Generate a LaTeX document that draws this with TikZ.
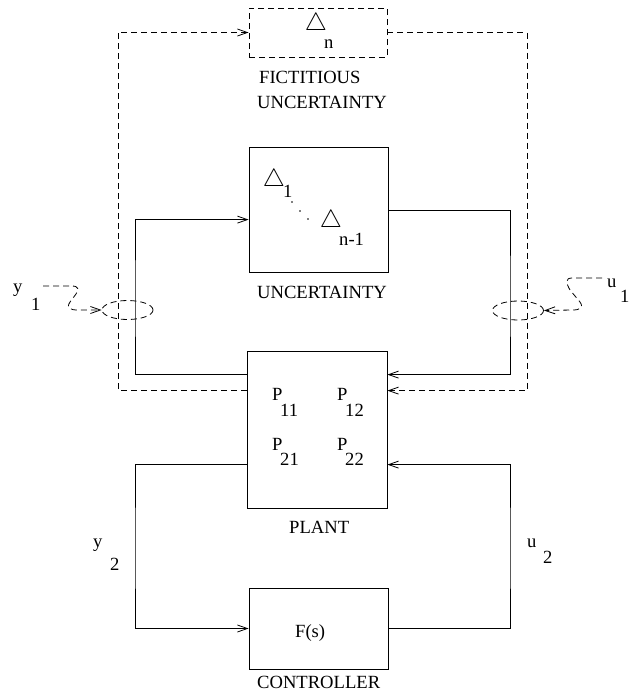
\documentclass[tikz,border=0pt]{standalone}
\usepackage{fontspec}
\setmainfont{Liberation Serif}
\usetikzlibrary{arrows.meta,shapes.geometric}
\begin{document}
\begin{tikzpicture}[x=1pt,y=-1pt,
  lbl/.style={inner sep=0pt,anchor=base west,font=\fontsize{18.6}{20}\selectfont},
  box/.style={draw,line width=0.8pt,inner sep=0pt},
  dsh/.style={dash pattern=on 6pt off 4pt},
  wire/.style={line width=0.8pt},
  arr/.style={-{Straight Barb[length=10pt,width=7pt]}},
  tri/.style={inner sep=0pt,font=\fontsize{25}{26}\selectfont},
  dotm/.style={fill,circle,inner sep=0pt,minimum size=1.6pt}]
\fill[white] (0,0) rectangle (630,697);
\useasboundingbox (0,0) rectangle (630,697);
% boxes
\node[box,dsh,minimum width=138pt,minimum height=49pt] (fict) at (318,32.5) {};
\node[box,minimum width=139pt,minimum height=125pt] (unc) at (318.5,209.5) {};
\node[box,minimum width=140pt,minimum height=157pt] (plant) at (317,429.5) {};
\node[box,minimum width=139pt,minimum height=81pt] (ctrl) at (318.5,628.5) {};
\node[box,dsh,ellipse,minimum width=51pt,minimum height=19pt] (el) at (127.5,310) {};
\node[box,dsh,ellipse,minimum width=51pt,minimum height=19pt] (er) at (518,310.5) {};
% triangles and subscripts
\node[tri] (tn) at (316,24) {$\triangle$};
\node[lbl] (tnn) at (324,48) {n};
\node[tri] (t1) at (274,180) {$\triangle$};
\node[lbl] (t1s) at (283,197) {1};
\node[dotm] (d1) at (292,202) {};
\node[dotm] (d2) at (300,211) {};
\node[dotm] (d3) at (308,219) {};
\node[tri] (t2) at (331,221) {$\triangle$};
\node[lbl] (t2s) at (339,245) {n-1};
% labels
\node[lbl] (l1) at (259,83) {FICTITIOUS};
\node[lbl] (l2) at (257,108) {UNCERTAINTY};
\node[lbl] (l3) at (257,298) {UNCERTAINTY};
\node[lbl] (l4) at (289,533) {PLANT};
\node[lbl] (l5) at (257,688) {CONTROLLER};
\node[lbl] (fs) at (295,637) {F(s)};
\node[lbl] (p1) at (272,400) {P};
\node[lbl] (p1s) at (280,416) {11};
\node[lbl] (p2) at (337,400) {P};
\node[lbl] (p2s) at (345,416) {12};
\node[lbl] (p3) at (272,450) {P};
\node[lbl] (p3s) at (280,465) {21};
\node[lbl] (p4) at (337,450) {P};
\node[lbl] (p4s) at (345,465) {22};
\node[lbl] (y1) at (13,292) {y};
\node[lbl] (y1s) at (31,310) {1};
\node[lbl] (u1) at (607,287) {u};
\node[lbl] (u1s) at (620,302) {1};
\node[lbl] (y2) at (93,547) {y};
\node[lbl] (y2s) at (110,570) {2};
\node[lbl] (u2) at (527,547) {u};
\node[lbl] (u2s) at (543,563) {2};
% coordinates
\coordinate (cL) at (135,0);
\coordinate (cR) at (510,0);
\coordinate (dL) at (118,0);
\coordinate (dR) at (527,0);
% solid upper loop
\draw[wire,arr] ([yshift=-24pt]plant.north west) -| (cL |- 0,300) |- ([yshift=-73pt]unc.north west);
\draw[wire,arr] ([yshift=-64pt]unc.north east) -| (cR |- 0,300) |- ([yshift=-24pt]plant.north east);
% dashed outer loop
\draw[wire,dsh,arr] ([yshift=-40pt]plant.north west) -| (dL |- 0,200) |- (fict.west);
\draw[wire,dsh,arr] (fict.east) -| (dR |- 0,200) |- ([yshift=-40pt]plant.north east);
% lower loop
\draw[wire,arr] ([yshift=-114pt]plant.north west) -| (cL |- 0,550) |- (ctrl.west);
\draw[wire,arr] (ctrl.east) -| (cR |- 0,550) |- ([yshift=-114pt]plant.north east);
% wavy signals
\coordinate (wy) at (43,286);
\coordinate (wu) at (602,278);
\draw[wire,dsh,arr] (wy) -- (72,286) .. controls (79,286) and (79,290) .. (76,294) -- (70,302) .. controls (66,308) and (70,310) .. (78,310) -- (el.west);
\draw[wire,dsh,arr] (wu) -- (572,278) .. controls (565,278) and (566,283) .. (570,290) -- (580,302) .. controls (584,308) and (580,310) .. (572,310) -- (er.east);
\end{tikzpicture}
\end{document}
